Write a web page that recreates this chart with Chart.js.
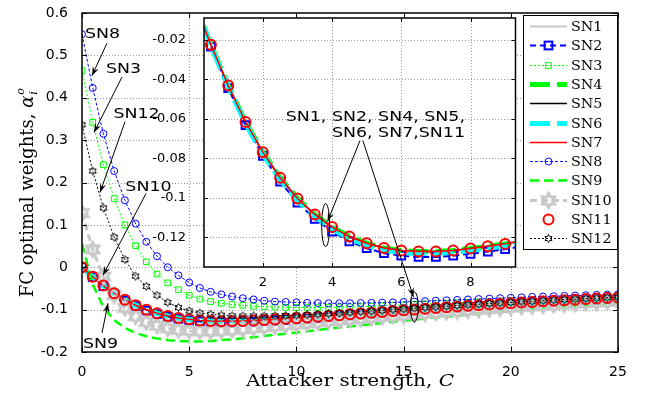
<!DOCTYPE html>
<html>
<head>
<meta charset="utf-8">
<script src="https://cdn.jsdelivr.net/npm/chart.js@4.4.1/dist/chart.umd.min.js"></script>
<style>
  html, body { margin: 0; padding: 0; background: #fff; }
  #wrap { position: relative; width: 646px; height: 394px; }
  #wrap canvas { position: absolute; }
  #main { left: 0; top: 0; }
  #inset { left: 150px; top: 10px; }
  #overlay { left: 0; top: 0; pointer-events: none; }
</style>
</head>
<body>
<div id="wrap">
  <canvas id="main" width="646" height="394"></canvas>
  <canvas id="inset" width="373" height="290"></canvas>
  <canvas id="overlay" width="646" height="394"></canvas>
</div>
<script>
/* Donnees */
var attackerStrength = [0, 0.5, 1, 1.5, 2, 2.5, 3, 3.5, 4, 4.5,
  5, 5.5, 6, 6.5, 7, 7.5, 8, 8.5, 9, 9.5,
  10, 10.5, 11, 11.5, 12, 12.5, 13, 13.5, 14, 14.5,
  15, 15.5, 16, 16.5, 17, 17.5, 18, 18.5, 19, 19.5,
  20, 20.5, 21, 21.5, 22, 22.5, 23, 23.5, 24, 24.5,
  25];

// SN1, SN4, SN5, SN7, SN11 (courbes confondues)
var weightsCommon = [0, -0.0225, -0.0432, -0.0616, -0.0769, -0.0898, -0.1003, -0.1084, -0.1148, -0.1196,
  -0.1230, -0.1254, -0.1267, -0.1272, -0.1272, -0.1266, -0.1256, -0.1245, -0.1233, -0.1218,
  -0.1202, -0.1185, -0.1167, -0.1149, -0.1130, -0.1111, -0.1092, -0.1073, -0.1054, -0.1035,
  -0.1016, -0.0998, -0.0980, -0.0962, -0.0945, -0.0928, -0.0911, -0.0895, -0.0879, -0.0863,
  -0.0848, -0.0833, -0.0819, -0.0805, -0.0791, -0.0778, -0.0765, -0.0752, -0.0740, -0.0728,
  -0.0716];
var weightsSN2 = [0, -0.0235, -0.0445, -0.0632, -0.0787, -0.0918, -0.1024, -0.1106, -0.1171, -0.1220,
  -0.1255, -0.1280, -0.1293, -0.1299, -0.1299, -0.1293, -0.1283, -0.1272, -0.1260, -0.1245,
  -0.1229, -0.1211, -0.1192, -0.1173, -0.1153, -0.1133, -0.1113, -0.1093, -0.1073, -0.1053,
  -0.1036, -0.1017, -0.0999, -0.0981, -0.0963, -0.0945, -0.0928, -0.0911, -0.0895, -0.0879,
  -0.0864, -0.0849, -0.0835, -0.0821, -0.0807, -0.0794, -0.0781, -0.0768, -0.0756, -0.0744,
  -0.0732];
var weightsSN6 = [0, -0.0231, -0.0440, -0.0625, -0.0779, -0.0908, -0.1013, -0.1094, -0.1158, -0.1206,
  -0.1240, -0.1264, -0.1277, -0.1282, -0.1282, -0.1276, -0.1266, -0.1255, -0.1243, -0.1228,
  -0.1212, -0.1195, -0.1177, -0.1159, -0.1140, -0.1121, -0.1102, -0.1083, -0.1064, -0.1045,
  -0.1026, -0.1008, -0.0990, -0.0972, -0.0955, -0.0938, -0.0921, -0.0905, -0.0889, -0.0873,
  -0.0858, -0.0843, -0.0829, -0.0815, -0.0801, -0.0788, -0.0775, -0.0762, -0.0750, -0.0738,
  -0.0726];
var weightsSN3 = [0.464, 0.342, 0.242, 0.162, 0.100, 0.051, 0.013, -0.016, -0.037, -0.053,
  -0.066, -0.075, -0.081, -0.085, -0.088, -0.090, -0.092, -0.093, -0.094, -0.0945,
  -0.095, -0.095, -0.095, -0.0945, -0.094, -0.0935, -0.093, -0.092, -0.091, -0.090,
  -0.089, -0.088, -0.087, -0.086, -0.085, -0.084, -0.083, -0.082, -0.081, -0.080,
  -0.079, -0.078, -0.077, -0.076, -0.075, -0.074, -0.073, -0.072, -0.071, -0.070,
  -0.069];
var weightsSN8 = [0.550, 0.423, 0.315, 0.227, 0.158, 0.103, 0.060, 0.026, 0.000, -0.019,
  -0.036, -0.049, -0.058, -0.064, -0.069, -0.073, -0.076, -0.079, -0.081, -0.082,
  -0.083, -0.084, -0.0845, -0.085, -0.085, -0.085, -0.0845, -0.084, -0.0835, -0.083,
  -0.082, -0.081, -0.080, -0.079, -0.078, -0.077, -0.076, -0.075, -0.074, -0.073,
  -0.072, -0.071, -0.070, -0.0692, -0.0684, -0.0676, -0.0668, -0.0660, -0.0652, -0.0645,
  -0.0638];
var weightsSN9 = [0.055, -0.040, -0.094, -0.125, -0.143, -0.155, -0.163, -0.168, -0.172, -0.174,
  -0.175, -0.175, -0.174, -0.172, -0.170, -0.1675, -0.165, -0.1623, -0.1595, -0.1567,
  -0.1539, -0.1510, -0.1481, -0.1452, -0.1424, -0.1396, -0.1368, -0.1341, -0.1314, -0.1288,
  -0.1262, -0.1237, -0.1212, -0.1188, -0.1164, -0.1141, -0.1118, -0.1096, -0.1074, -0.1053,
  -0.1033, -0.1013, -0.0994, -0.0975, -0.0957, -0.0939, -0.0921, -0.0904, -0.0888, -0.0872,
  -0.0856];
var weightsSN10 = [0.128, 0.042, -0.022, -0.066, -0.096, -0.116, -0.129, -0.138, -0.144, -0.148,
  -0.150, -0.151, -0.151, -0.150, -0.148, -0.146, -0.1438, -0.1415, -0.1392, -0.1368,
  -0.1345, -0.1322, -0.1299, -0.1276, -0.1254, -0.1232, -0.1210, -0.1189, -0.1168, -0.1148,
  -0.1128, -0.1108, -0.1089, -0.1070, -0.1051, -0.1033, -0.1015, -0.0998, -0.0981, -0.0964,
  -0.0948, -0.0932, -0.0916, -0.0901, -0.0886, -0.0871, -0.0857, -0.0843, -0.0829, -0.0816,
  -0.0803];
var weightsSN12 = [0.336, 0.227, 0.140, 0.071, 0.018, -0.021, -0.045, -0.066, -0.083, -0.095,
  -0.103, -0.108, -0.111, -0.113, -0.1145, -0.115, -0.115, -0.1148, -0.1143, -0.1136,
  -0.1128, -0.1118, -0.1107, -0.1094, -0.1080, -0.1065, -0.1050, -0.1034, -0.1018, -0.1001,
  -0.0984, -0.0967, -0.0951, -0.0935, -0.0919, -0.0903, -0.0888, -0.0873, -0.0858, -0.0844,
  -0.0830, -0.0816, -0.0803, -0.0790, -0.0777, -0.0765, -0.0753, -0.0741, -0.0730, -0.0719,
  -0.0708];

/* Graduations */
var mainXTicks = [0, 5, 10, 15, 20, 25];
var mainXLabels = ['0', '5', '10', '15', '20', '25'];
var mainYTicks = [-0.2, -0.1, 0, 0.1, 0.2, 0.3, 0.4, 0.5, 0.6];
var mainYLabels = ['-0.2', '-0.1', '0', '0.1', '0.2', '0.3', '0.4', '0.5', '0.6'];
var insetXTicks = [2, 4, 6, 8];
var insetXLabels = ['2', '4', '6', '8'];
var insetYTicks = [-0.12, -0.1, -0.08, -0.06, -0.04, -0.02];
var insetYLabels = ['-0.12', '-0.1', '-0.08', '-0.06', '-0.04', '-0.02'];

/* Etoile a six branches (marqueur 'h' de matlab) */
function hexagram(r, lw, color) {
  var size = Math.ceil(2 * r + lw + 2);
  var c = document.createElement('canvas');
  c.width = size; c.height = size;
  var g = c.getContext('2d');
  g.translate(size / 2, size / 2);
  g.beginPath();
  for (var k = 0; k < 12; k++) {
    var a = -Math.PI / 2 + k * Math.PI / 6;
    var rr = k % 2 === 0 ? r : r / Math.sqrt(3);
    if (k === 0) g.moveTo(rr * Math.cos(a), rr * Math.sin(a));
    else g.lineTo(rr * Math.cos(a), rr * Math.sin(a));
  }
  g.closePath();
  g.strokeStyle = color; g.lineWidth = lw; g.lineJoin = 'miter';
  g.stroke();
  return c;
}

var series = [
  {label: 'SN1', data: weightsCommon, color: '#c8c8c8', width: 2, dash: [], inset: true},
  {label: 'SN2', data: weightsSN2, color: '#0000ff', width: 2, dash: [6, 4], marker: 'rect', radius: 5.5, mw: 2, inset: true},
  {label: 'SN3', data: weightsSN3, color: '#00ff00', width: 1, dash: [2, 2], marker: 'rect', radius: 4, mw: 1},
  {label: 'SN4', data: weightsCommon, color: '#00ff00', width: 5, dash: [20, 7], inset: true},
  {label: 'SN5', data: weightsCommon, color: '#000000', width: 1.5, dash: [], inset: true},
  {label: 'SN6', data: weightsSN6, color: '#00ffff', width: 5, dash: [20, 7], inset: true},
  {label: 'SN7', data: weightsCommon, color: '#ff0000', width: 1.5, dash: [], inset: true},
  {label: 'SN8', data: weightsSN8, color: '#0000ff', width: 1, dash: [3, 2], marker: 'circle', radius: 3.5, mw: 1},
  {label: 'SN9', data: weightsSN9, color: '#00ff00', width: 2.5, dash: [9, 5]},
  {label: 'SN10', data: weightsSN10, color: '#c8c8c8', width: 3, dash: [7, 4], marker: hexagram(7, 3, '#c8c8c8'), radius: 4},
  {label: 'SN11', data: weightsCommon, color: '#ff0000', width: 2, dash: [], line: false, marker: 'circle', radius: 5, mw: 2, inset: true},
  {label: 'SN12', data: weightsSN12, color: '#000000', width: 1, dash: [2, 2], marker: hexagram(4, 1, '#000000'), radius: 4}
];

function toPoints(arr) {
  return attackerStrength.map(function (c, i) { return {x: c, y: arr[i]}; });
}

function makeDataset(s, i) {
  return {
    label: s.label,
    data: toPoints(s.data),
    borderColor: s.color,
    backgroundColor: 'rgba(0,0,0,0)',
    borderWidth: s.width,
    borderDash: s.dash,
    showLine: s.line !== false,
    pointStyle: s.marker || 'circle',
    pointRadius: s.marker ? s.radius : 0,
    pointHoverRadius: 0,
    pointBorderColor: s.color,
    pointBackgroundColor: 'rgba(0,0,0,0)',
    pointBorderWidth: s.mw || 1,
    tension: 0,
    order: 11 - i
  };
}

/* Cadre, grille pointillee et graduations vers l'interieur (style matlab) */
function boxPlugin(xTicks, yTicks, tickLen, whiteBg) {
  return {
    id: 'box',
    beforeDatasetsDraw: function (chart) {
      var g = chart.ctx, a = chart.chartArea, sx = chart.scales.x, sy = chart.scales.y;
      g.save();
      if (whiteBg) { g.fillStyle = '#fff'; g.fillRect(a.left, a.top, a.right - a.left, a.bottom - a.top); }
      g.strokeStyle = '#9a9a9a'; g.lineWidth = 1; g.setLineDash([1, 2]);
      xTicks.forEach(function (v) {
        var x = Math.round(sx.getPixelForValue(v)) + 0.5;
        if (x < a.left + 2 || x > a.right - 2) return;
        g.beginPath(); g.moveTo(x, a.top); g.lineTo(x, a.bottom); g.stroke();
      });
      yTicks.forEach(function (v) {
        var y = Math.round(sy.getPixelForValue(v)) + 0.5;
        if (y < a.top + 2 || y > a.bottom - 2) return;
        g.beginPath(); g.moveTo(a.left, y); g.lineTo(a.right, y); g.stroke();
      });
      g.restore();
    },
    afterDatasetsDraw: function (chart) {
      var g = chart.ctx, a = chart.chartArea, sx = chart.scales.x, sy = chart.scales.y;
      g.save();
      g.strokeStyle = '#000'; g.lineWidth = 1;
      xTicks.forEach(function (v) {
        var x = Math.round(sx.getPixelForValue(v)) + 0.5;
        g.beginPath(); g.moveTo(x, a.bottom); g.lineTo(x, a.bottom - tickLen);
        g.moveTo(x, a.top); g.lineTo(x, a.top + tickLen); g.stroke();
      });
      yTicks.forEach(function (v) {
        var y = Math.round(sy.getPixelForValue(v)) + 0.5;
        g.beginPath(); g.moveTo(a.left, y); g.lineTo(a.left + tickLen, y);
        g.moveTo(a.right, y); g.lineTo(a.right - tickLen, y); g.stroke();
      });
      g.lineWidth = 1.5;
      g.strokeRect(a.left, a.top, a.right - a.left, a.bottom - a.top);
      g.restore();
    }
  };
}

/* Legende, titres des axes */
var legendBox = {left: 523, top: 15, right: 618, bottom: 250, row0: 26, step: 19.3};

function drawMarker(g, s, x, y) {
  if (!s.marker) return;
  g.save();
  g.setLineDash([]);
  g.strokeStyle = s.color; g.lineWidth = s.mw || 1;
  if (typeof s.marker === 'object') {
    g.drawImage(s.marker, x - s.marker.width / 2, y - s.marker.height / 2);
  } else if (s.marker === 'rect') {
    var h = s.radius * Math.SQRT1_2;
    g.strokeRect(x - h, y - h, 2 * h, 2 * h);
  } else {
    g.beginPath(); g.arc(x, y, s.radius, 0, 2 * Math.PI); g.stroke();
  }
  g.restore();
}

// texte elargi horizontalement (la figure d'origine est etiree)
function wideText(g, t, x, y, sx, align) {
  var w = g.measureText(t).width * sx;
  var x0 = align === 'center' ? x - w / 2 : (align === 'right' ? x - w : x);
  g.save();
  g.textAlign = 'left';
  g.translate(x0, y); g.scale(sx, 1);
  g.fillText(t, 0, 0);
  g.restore();
  return w;
}

var decorPlugin = {
  id: 'decor',
  afterDraw: function (chart) {
    var g = chart.ctx, a = chart.chartArea;
    g.save();
    // legende
    g.fillStyle = '#fff';
    g.fillRect(legendBox.left, legendBox.top, legendBox.right - legendBox.left, legendBox.bottom - legendBox.top);
    g.strokeStyle = '#000'; g.lineWidth = 1;
    g.strokeRect(legendBox.left + 0.5, legendBox.top + 0.5, legendBox.right - legendBox.left - 1, legendBox.bottom - legendBox.top - 1);
    g.font = '13px "DejaVu Serif"'; g.textBaseline = 'middle';
    series.forEach(function (s, i) {
      var y = Math.round(legendBox.row0 + i * legendBox.step) + 0.5;
      if (s.line !== false) {
        g.save();
        g.strokeStyle = s.color; g.lineWidth = s.width; g.setLineDash(s.dash);
        g.beginPath(); g.moveTo(530, y); g.lineTo(567, y); g.stroke();
        g.restore();
      }
      drawMarker(g, s, 548.5, y);
      g.fillStyle = '#000';
      wideText(g, s.label, 571, y + 1, 1.1, 'left');
    });
    // titre axe x
    g.fillStyle = '#000'; g.textBaseline = 'alphabetic';
    g.font = '17px "DejaVu Serif"';
    var tx = 'Attacker strength, ';
    var w1 = g.measureText(tx).width * 1.18;
    g.font = 'italic 17px "DejaVu Serif"';
    var w2 = g.measureText('C').width * 1.18;
    var x0 = (a.left + a.right) / 2 - (w1 + w2) / 2;
    g.font = '17px "DejaVu Serif"'; wideText(g, tx, x0, 386, 1.18, 'left');
    g.font = 'italic 17px "DejaVu Serif"'; wideText(g, 'C', x0 + w1, 386, 1.18, 'left');
    // titre axe y
    var ty = 'FC optimal weights, ';
    g.font = '18px "DejaVu Serif"';
    var v1 = g.measureText(ty).width;
    g.font = 'italic 18px "DejaVu Serif"';
    var v2 = g.measureText('\u03b1').width;
    var total = v1 + v2 + 7;
    g.translate(33, 193 + total / 2);
    g.rotate(-Math.PI / 2);
    g.font = '18px "DejaVu Serif"'; g.fillText(ty, 0, 0);
    g.font = 'italic 18px "DejaVu Serif"'; g.fillText('\u03b1', v1, 0);
    g.font = 'italic 11px "DejaVu Serif"';
    g.fillText('i', v1 + v2 + 1, 4);
    g.fillText('o', v1 + v2 + 1, -9);
    g.restore();
  }
};

function axisOpts(min, max, ticks, labels, size, pad, fit) {
  return {
    type: 'linear', min: min, max: max,
    grid: {display: false}, border: {display: false},
    afterBuildTicks: function (s) { s.ticks = ticks.map(function (v) { return {value: v}; }); },
    afterFit: function (s) {
      fit(s);
      s.paddingTop = 0; s.paddingBottom = 0; s.paddingLeft = 0; s.paddingRight = 0;
    },
    ticks: {
      autoSkip: false, maxRotation: 0, color: '#000', padding: pad,
      font: {family: 'DejaVu Sans', size: size},
      callback: function (v, i) { return labels[i]; }
    }
  };
}

var mainChart = new Chart(document.getElementById('main').getContext('2d'), {
  type: 'line',
  data: {datasets: series.map(makeDataset)},
  options: {
    responsive: false, animation: false, events: [],
    layout: {padding: {top: 13, right: 28, left: 0, bottom: 0}},
    plugins: {legend: {display: false}, tooltip: {enabled: false}},
    scales: {
      x: axisOpts(0, 25, mainXTicks, mainXLabels, 14, 4, function (s) { s.height = 42; }),
      y: axisOpts(-0.2, 0.6, mainYTicks, mainYLabels, 14, 6, function (s) { s.width = 82; })
    }
  },
  plugins: [boxPlugin(mainXTicks, mainYTicks, 5, false), decorPlugin]
});

/* Zoom (encart) */
var insetSeries = series.filter(function (s) { return s.inset; });
var insetChart = new Chart(document.getElementById('inset').getContext('2d'), {
  type: 'line',
  data: {datasets: insetSeries.map(function (s) { return makeDataset(s, series.indexOf(s)); })},
  options: {
    responsive: false, animation: false, events: [],
    layout: {padding: {top: 8, right: 3, left: 0, bottom: 0}},
    plugins: {legend: {display: false}, tooltip: {enabled: false}},
    scales: {
      x: axisOpts(0.3, 9.3, insetXTicks, insetXLabels, 13, 0, function (s) { s.height = 33; }),
      y: axisOpts(-0.135, -0.009, insetYTicks, insetYLabels, 13, 10, function (s) { s.width = 54; })
    }
  },
  plugins: [boxPlugin(insetXTicks, insetYTicks, 4, true)]
});

/* Annotations (fleches et textes) */
var mainNotes = [
  {text: 'SN8', at: [0.956, 0.541], tail: [1.166, 0.529], tip: [0.466, 0.452]},
  {text: 'SN3', at: [1.936, 0.459], tail: [1.866, 0.449], tip: [0.560, 0.318]},
  {text: 'SN12', at: [2.542, 0.353], tail: [2.006, 0.3435], tip: [0.84, 0.1765]},
  {text: 'SN10', at: [3.10, 0.181], tail: [2.985, 0.174], tip: [0.98, -0.019]},
  {text: 'SN9', at: [0.863, -0.1906], tail: [0.933, -0.155], tip: [1.213, -0.085]}
];
var groupNote = {
  lines: ['SN1, SN2, SN4, SN5,', 'SN6, SN7,SN11'],
  right: 7.84, baselines: [-0.0609, -0.0690],
  tail1: [4.807, -0.0710], tip1: [3.871, -0.1119],
  tail2: [4.89, -0.0710], tip2: [15.46, -0.0700],
  insetEllipse: [3.815, -0.1138], mainEllipse: [15.5, -0.0934]
};

var ov = document.getElementById('overlay').getContext('2d');
var insetEl = document.getElementById('inset');
function mainPx(p) { return [mainChart.scales.x.getPixelForValue(p[0]), mainChart.scales.y.getPixelForValue(p[1])]; }
function insetPx(p) { return [insetEl.offsetLeft + insetChart.scales.x.getPixelForValue(p[0]), insetEl.offsetTop + insetChart.scales.y.getPixelForValue(p[1])]; }

function arrow(g, from, to) {
  g.beginPath(); g.moveTo(from[0], from[1]); g.lineTo(to[0], to[1]); g.stroke();
  var a = Math.atan2(to[1] - from[1], to[0] - from[0]);
  var len = 9, half = 3.2, ca = Math.cos(a), sa = Math.sin(a);
  g.beginPath();
  g.moveTo(to[0], to[1]);
  g.lineTo(to[0] - len * ca + half * sa, to[1] - len * sa - half * ca);
  g.lineTo(to[0] - 0.65 * len * ca, to[1] - 0.65 * len * sa);
  g.lineTo(to[0] - len * ca - half * sa, to[1] - len * sa + half * ca);
  g.closePath(); g.fill();
}

ov.strokeStyle = '#000'; ov.fillStyle = '#000'; ov.lineWidth = 1;
ov.font = '14.5px "DejaVu Sans"'; ov.textBaseline = 'alphabetic';
mainNotes.forEach(function (n) {
  var p = mainPx(n.at);
  wideText(ov, n.text, p[0], p[1], 1.2, 'center');
  arrow(ov, mainPx(n.tail), mainPx(n.tip));
});

groupNote.lines.forEach(function (t, i) {
  var p = insetPx([groupNote.right, groupNote.baselines[i]]);
  wideText(ov, t, p[0], p[1], 1.2, 'right');
});
arrow(ov, insetPx(groupNote.tail1), insetPx(groupNote.tip1));
arrow(ov, insetPx(groupNote.tail2), mainPx(groupNote.tip2));
var e1 = insetPx(groupNote.insetEllipse), e2 = mainPx(groupNote.mainEllipse);
ov.beginPath(); ov.ellipse(e1[0], e1[1], 4, 21.5, 0, 0, 2 * Math.PI); ov.stroke();
ov.beginPath(); ov.ellipse(e2[0], e2[1], 4, 15, 0, 0, 2 * Math.PI); ov.stroke();
</script>
</body>
</html>
